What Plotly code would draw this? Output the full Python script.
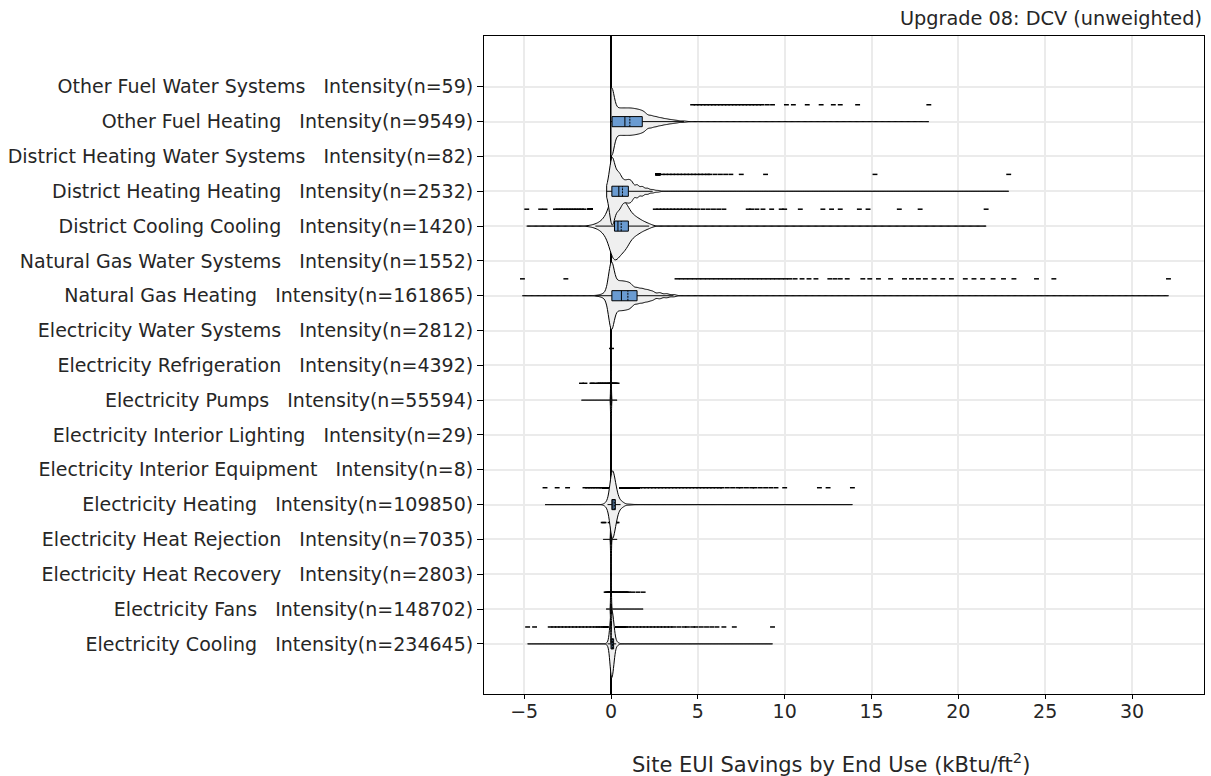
import numpy as np
import plotly.graph_objects as go

# ---------------- data ----------------
end_uses = ["Electricity Cooling", "Electricity Fans", "Electricity Heat Recovery",
            "Electricity Heat Rejection", "Electricity Heating", "Electricity Interior Equipment",
            "Electricity Interior Lighting", "Electricity Pumps", "Electricity Refrigeration",
            "Electricity Water Systems", "Natural Gas Heating", "Natural Gas Water Systems",
            "District Cooling Cooling", "District Heating Heating", "District Heating Water Systems",
            "Other Fuel Heating", "Other Fuel Water Systems"]
sample_n = [234645, 148702, 2803, 7035, 109850, 8, 29, 55594, 4392, 2812,
            161865, 1552, 1420, 2532, 82, 9549, 59]

# body of each distribution: values and relative counts; tail/outlier values listed one by one
cool_vals = [-0.3, -0.2, -0.1, -0.05, 0.0, 0.05, 0.1, 0.15, 0.2, 0.3, 0.4, 0.5, 0.7]
cool_wts = [10, 30, 90, 200, 600, 500, 400, 300, 200, 80, 30, 12, 4]
cool_out = [-4.8, -4.4, -3.5, -3.3, -3.1, -2.9, -2.7, -2.5, -2.3, -2.1, -1.9, -1.7, -1.5, -1.3,
            -1.1, -0.9, -0.75, -0.6, -0.45, 0.55, 0.7, 0.85, 1.0, 1.2, 1.4, 1.6, 1.8, 2.0, 2.2,
            2.4, 2.6, 2.8, 3.0, 3.2, 3.4, 3.6, 3.9, 4.2, 4.4, 4.7, 4.9, 5.2, 5.5, 5.8, 6.1, 6.5,
            7.1, 9.3]

fans_vals = [-0.02, 0.0, 0.02]
fans_wts = [60, 1000, 150]
fans_out = [-0.28, -0.22, -0.16, -0.1, -0.05, 0.06, 0.12, 0.2, 0.28, 0.36, 0.44, 0.52, 0.6,
            0.68, 0.76, 0.84, 0.92, 1.0, 1.25, 1.55, 1.85]

hrej_vals = [0.0]
hrej_wts = [800]
hrej_out = [-0.45, -0.4, -0.05, 0.03, 0.07, 0.12, 0.17, 0.22, 0.3, 0.35]

heat_vals = [-0.38, -0.3, -0.2, -0.1, 0.0, 0.05, 0.1, 0.15, 0.2, 0.25, 0.3, 0.35, 0.45, 0.55,
             0.65, 0.75, 1.0, 1.2, 1.5]
heat_wts = [40, 70, 150, 350, 900, 1200, 800, 650, 550, 480, 400, 330, 240, 170, 120, 90, 50, 25, 12]
heat_out = [-3.8, -3.1, -2.5, -1.5, -1.35, -1.2, -1.05, -0.9, -0.75, -0.6, -0.5, 0.85, 1.05,
            1.25, 1.45, 1.65, 1.85, 2.05, 2.25, 2.45, 2.65, 2.85, 3.05, 3.25, 3.45, 3.65, 3.85,
            4.05, 4.25, 4.45, 4.65, 4.85, 5.05, 5.25, 5.45, 5.65, 5.85, 6.05, 6.25, 6.4, 6.7,
            7.0, 7.3, 7.5, 7.8, 8.1, 8.3, 8.6, 8.9, 9.2, 9.5, 10.0, 12.0, 12.5, 13.9]

pump_vals = [0.0]
pump_wts = [1000]
pump_out = [-1.7, -1.5, -1.1, -1.05, -0.8, -0.7, -0.6, -0.5, -0.4, -0.3, -0.2, -0.1, -0.03,
            0.05, 0.12, 0.2, 0.28, 0.35]

refr_vals = [0.0]
refr_wts = [1000]
refr_out = [0.03]

ngh_vals = [-0.9, -0.6, -0.4, -0.2, 0.0, 0.05, 0.2, 0.4, 0.6, 0.8, 1.0, 1.2, 1.5, 1.8, 2.1,
            2.4, 2.8, 3.2, 3.6]
ngh_wts = [10, 30, 50, 110, 900, 300, 300, 330, 330, 320, 300, 290, 270, 240, 200, 160, 120, 80, 45]
ngh_out = [-5.1, -2.6, 3.8, 4.05, 4.3, 4.55, 4.8, 5.05, 5.3, 5.55, 5.8, 6.05, 6.3, 6.55, 6.8,
           7.05, 7.3, 7.55, 7.8, 8.05, 8.3, 8.55, 8.8, 9.05, 9.3, 9.55, 9.8, 10.05, 10.3, 10.6,
           11.0, 11.4, 11.8, 12.6, 12.9, 13.2, 13.6, 14.5, 14.9, 15.4, 16.1, 16.9, 17.3, 17.7,
           18.1, 18.6, 19.1, 19.6, 20.4, 20.9, 21.4, 22.0, 22.6, 23.2, 24.5, 25.5, 32.1]

dcc_vals = [-1.2, -0.9, -0.6, -0.3, 0.0, 0.2, 0.4, 0.6, 0.8, 1.0, 1.3, 1.6, 1.9, 2.2]
dcc_wts = [15, 40, 90, 200, 450, 500, 420, 360, 320, 300, 220, 150, 90, 50]
dcc_out = [-4.85, -4.05, -3.8, -3.2, -3.05, -2.9, -2.75, -2.6, -2.45, -2.3, -2.15, -2.0, -1.85,
           -1.7, -1.55, 2.55, 2.75, 2.95, 3.15, 3.35, 3.55, 3.75, 3.95, 4.15, 4.35, 4.55, 4.75,
           5.0, 5.3, 5.6, 5.9, 6.2, 6.5, 7.9, 8.1, 8.4, 8.75, 9.25, 9.8, 10.0, 10.9, 12.2, 12.7,
           13.2, 14.3, 14.8, 16.6, 17.8, 21.6]

dhh_vals = [-0.25, -0.15, -0.05, 0.05, 0.15, 0.3, 0.45, 0.6, 0.8, 1.0, 1.2, 1.5, 1.8, 2.1, 2.4, 2.7]
dhh_wts = [20, 80, 200, 420, 300, 250, 250, 200, 180, 200, 190, 150, 110, 70, 40, 20]
dhh_out = [2.95, 3.15, 3.35, 3.55, 3.75, 3.95, 4.15, 4.35, 4.55, 4.75, 4.95, 5.15, 5.35, 5.55,
           5.7, 6.0, 6.3, 6.6, 6.9, 7.5, 8.9, 15.2, 22.9]

ofh_vals = [0.0, 0.06, 0.2, 0.4, 0.6, 0.8, 1.0, 1.2, 1.4, 1.6, 1.8, 2.0, 2.3, 2.6, 2.9, 3.2,
            3.5, 3.8, 4.2]
ofh_wts = [1800, 500, 500, 550, 550, 550, 550, 550, 520, 500, 450, 400, 380, 300, 230, 170,
           120, 80, 50]
ofh_out = [4.7, 4.9, 5.1, 5.3, 5.5, 5.7, 5.9, 6.1, 6.3, 6.5, 6.7, 6.9, 7.1, 7.3, 7.5, 7.7,
           7.9, 8.1, 8.3, 8.5, 8.7, 9.0, 9.3, 10.1, 10.5, 11.3, 12.1, 12.8, 13.2, 14.2, 18.3]

# (row index, body values, body counts, tail values, KDE bandwidth)
violins = [
    (0, cool_vals, cool_wts, cool_out, 0.07),
    (1, fans_vals, fans_wts, fans_out, 0.02),
    (3, hrej_vals, hrej_wts, hrej_out, 0.02),
    (4, heat_vals, heat_wts, heat_out, 0.11),
    (7, pump_vals, pump_wts, pump_out, 0.02),
    (8, refr_vals, refr_wts, refr_out, 0.01),
    (10, ngh_vals, ngh_wts, ngh_out, 0.15),
    (12, dcc_vals, dcc_wts, dcc_out, 0.2),
    (13, dhh_vals, dhh_wts, dhh_out, 0.12),
    (15, ofh_vals, ofh_wts, ofh_out, 0.15),
]

tick_labels = [f"{u}\u00a0\u00a0\u00a0Intensity(n={n})" for u, n in zip(end_uses, sample_n)]

FONT = "DejaVu Sans, Verdana, sans-serif"
TXT = "#262626"

fig = go.Figure()
for idx, vals, wts, tail, bw in violins:
    samples = np.concatenate([np.repeat(np.array(vals, float), wts), np.array(tail, float)])
    fig.add_trace(go.Violin(
        x=samples, y0=idx, orientation="h", width=1.94,
        spanmode="hard", bandwidth=bw, scalemode="width", scalegroup=f"g{idx}",
        side="both", points="outliers", pointpos=0.5, jitter=0,
        marker=dict(symbol="line-ew-open", size=3.5, color="black",
                    line=dict(width=1.5, color="black")),
        line=dict(color="black", width=1), fillcolor="#efefef",
        box=dict(visible=True, width=0.15, fillcolor="#6a9bd1",
                 line=dict(color="black", width=1)),
        meanline=dict(visible=True, color="black", width=1),
        showlegend=False, hoverinfo="skip"))

fig.update_layout(
    width=1211, height=776,
    margin=dict(l=484, r=7, t=36, b=82),
    plot_bgcolor="white", paper_bgcolor="white",
    violinmode="overlay", violingap=0, violingroupgap=0,
    font=dict(family=FONT, size=19, color=TXT),
    annotations=[
        dict(text="Upgrade 08: DCV (unweighted)", xref="paper", yref="paper",
             x=1, y=1, xanchor="right", yanchor="bottom", yshift=4,
             showarrow=False, font=dict(family=FONT, size=19.3, color=TXT)),
        dict(text="Site EUI Savings by End Use (kBtu/ft<sup>2</sup>)", xref="paper", yref="paper",
             x=0.482, y=0, xanchor="center", yanchor="middle", yshift=-69,
             showarrow=False, font=dict(family=FONT, size=21, color=TXT)),
    ],
)
fig.update_xaxes(
    range=[-7.313, 34.145], tick0=0, dtick=5,
    ticks="outside", ticklen=4, tickcolor="black", ticklabelstandoff=-4,
    showline=True, linecolor="black", linewidth=1, mirror=True,
    showgrid=True, gridcolor="#ebebeb", gridwidth=2,
    zeroline=True, zerolinecolor="black", zerolinewidth=1.5,
)
fig.update_yaxes(
    range=[-1.44, 17.46], tickmode="array",
    tickvals=list(range(len(end_uses))), ticktext=tick_labels,
    ticks="outside", ticklen=6, tickcolor="black",
    showline=True, linecolor="black", linewidth=1, mirror=True,
    showgrid=True, gridcolor="#ebebeb", gridwidth=2, zeroline=False,
)

fig.write_html("out.html")
